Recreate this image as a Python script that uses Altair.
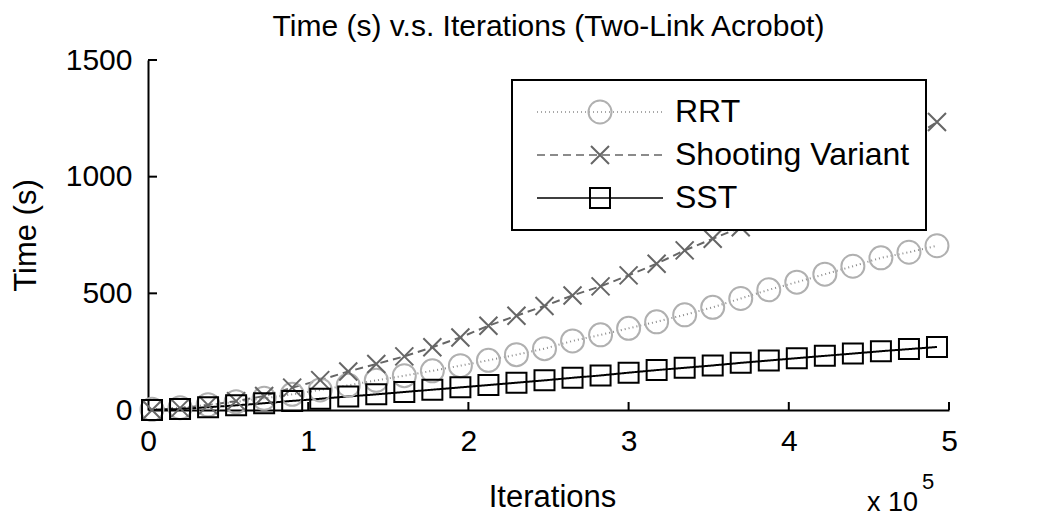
import altair as alt
import pandas as pd

FONT = "Liberation Sans"

series_names = ["RRT", "Shooting Variant", "SST"]
iterations = [2500, 20000, 37500, 55000, 72500, 90000, 107500, 125000, 142500,
              160000, 177500, 195000, 212500, 230000, 247500, 265000, 282500,
              300000, 317500, 335000, 352500, 370000, 387500, 405000, 422500,
              440000, 457500, 475000, 492500]
rrt_time = [3, 10, 22, 35, 50, 67, 86, 106, 127, 147, 168, 190, 213, 237, 263,
            296, 322, 350, 378, 408, 440, 478, 515, 548, 582, 616, 652, 676, 704]
shooting_time = [0, 8, 21, 38, 60, 96, 128, 165, 197, 230, 269, 311, 361, 404,
                 446, 491, 530, 577, 627, 684, 734, 783, 835, 890, 950, 1015,
                 1085, 1158, 1234]
sst_time = [0, 4, 12, 20, 29, 39, 48, 58, 67, 77, 87, 97, 107, 117, 127, 138,
            148, 160, 171, 181, 191, 202, 212, 222, 232, 242, 252, 261, 270]

x_tick_values = [0, 100000, 200000, 300000, 400000, 500000]
y_tick_values = [0, 500, 1000, 1500]
inner_x_ticks = [100000, 200000, 300000, 400000, 500000]
inner_y_ticks = [500, 1000, 1500]

line_colors = ["#8c8c8c", "#666666", "#000000"]
line_dashes = [[1, 3], [8, 5], [1, 0]]
marker_colors = ["#b0b0b0", "#666666", "#000000"]
marker_shapes = [
    "M1.15,0A1.15,1.15,0,1,1,-1.15,0A1.15,1.15,0,1,1,1.15,0Z",
    "M-0.9,-0.9L0.9,0.9M-0.9,0.9L0.9,-0.9",
    "square",
]

rows = []
for name, vals in zip(series_names, [rrt_time, shooting_time, sst_time]):
    for it, t in zip(iterations, vals):
        rows.append({"iter": it, "time": t, "series": name, "method": name})
df = pd.DataFrame(rows)

x_scale = alt.Scale(domain=[0, 500000], nice=False, zero=False)
y_scale = alt.Scale(domain=[0, 1500], nice=False)

x_axis = alt.Axis(values=x_tick_values, labelExpr="datum.value / 100000",
                  title="Iterations", titleX=404, titleY=96,
                  titleBaseline="alphabetic", titleAlign="center",
                  labelPadding=16, labelFlush=False, ticks=False, grid=False)
y_axis = alt.Axis(values=y_tick_values, format="d", title="Time (s)",
                  titleX=-122, titleY=175, titleAngle=270,
                  titleAlign="center", titleBaseline="middle",
                  labelPadding=16, ticks=False, grid=False)

LEG_X = 364
LEG_Y = 20
common_leg = dict(orient="none", legendX=LEG_X, legendY=LEG_Y, title=None,
                  symbolSize=400, labelFont=FONT, labelFontSize=32,
                  labelColor="black", padding=16, rowPadding=11,
                  symbolOffset=56, labelOffset=59, labelLimit=400)

line_legend = alt.Legend(
    symbolType="M-6.3,0L6.3,0", symbolStrokeWidth=1.5, labelOpacity=0,
    fillColor="white", strokeColor="black", zindex=0,
    **common_leg,
)
point_legend = alt.Legend(symbolStrokeWidth=2, symbolFillColor="transparent",
                          zindex=1, **common_leg)

lines = alt.Chart(df).mark_line(strokeWidth=2).encode(
    x=alt.X("iter:Q", scale=x_scale, axis=x_axis),
    y=alt.Y("time:Q", scale=y_scale, axis=y_axis),
    color=alt.Color("series:N",
                    scale=alt.Scale(domain=series_names, range=line_colors),
                    legend=line_legend),
    strokeDash=alt.StrokeDash("series:N",
                              scale=alt.Scale(domain=series_names,
                                              range=line_dashes),
                              legend=line_legend),
    strokeWidth=alt.condition(alt.datum.series == "RRT", alt.value(1.2),
                              alt.value(2)),
)

points = alt.Chart(df).mark_point(filled=False, size=400, opacity=1,
                                  strokeWidth=2).encode(
    x=alt.X("iter:Q", scale=x_scale, axis=x_axis),
    y=alt.Y("time:Q", scale=y_scale, axis=y_axis),
    shape=alt.Shape("method:N",
                    scale=alt.Scale(domain=series_names, range=marker_shapes),
                    legend=point_legend),
    color=alt.Color("method:N",
                    scale=alt.Scale(domain=series_names, range=marker_colors),
                    legend=point_legend),
)

xt = alt.Chart(pd.DataFrame({"iter": inner_x_ticks})).mark_rule(
    color="black", strokeWidth=2).encode(
    x=alt.X("iter:Q", scale=x_scale, axis=x_axis),
    y=alt.value(350), y2=alt.value(342))

yt = alt.Chart(pd.DataFrame({"time": inner_y_ticks})).mark_rule(
    color="black", strokeWidth=2).encode(
    y=alt.Y("time:Q", scale=y_scale, axis=y_axis),
    x=alt.value(0), x2=alt.value(9))

exp_base = alt.Chart(pd.DataFrame({"t": ["x 10"]})).mark_text(
    font=FONT, fontSize=27, align="right", baseline="alphabetic",
    color="black").encode(text="t:N", x=alt.value(770), y=alt.value(451))
exp_sup = alt.Chart(pd.DataFrame({"t": ["5"]})).mark_text(
    font=FONT, fontSize=22, align="left", baseline="alphabetic",
    color="black").encode(text="t:N", x=alt.value(774), y=alt.value(429))

chart = alt.layer(lines, points, xt, yt, exp_base, exp_sup).resolve_scale(
    color="independent", strokeDash="independent", shape="independent"
).resolve_legend(
    color="independent", strokeDash="independent", shape="independent"
).properties(
    width=801, height=350,
    title=alt.TitleParams("Time (s) v.s. Iterations (Two-Link Acrobot)",
                          font=FONT, fontSize=30, fontWeight="normal",
                          color="black", anchor="middle", frame="group",
                          baseline="alphabetic", offset=-21),
    autosize="none",
    background="white",
    padding={"left": 140, "top": 52, "right": 60, "bottom": 107},
).configure_view(stroke="transparent").configure_axis(
    domainColor="black", domainWidth=2, labelColor="black", labelFont=FONT,
    labelFontSize=30, titleFont=FONT, titleFontSize=31, titleColor="black",
    titleFontWeight="normal",
).configure_legend(strokeWidth=2)

chart.save("out.html", embed_options={"renderer": "svg", "actions": False})
